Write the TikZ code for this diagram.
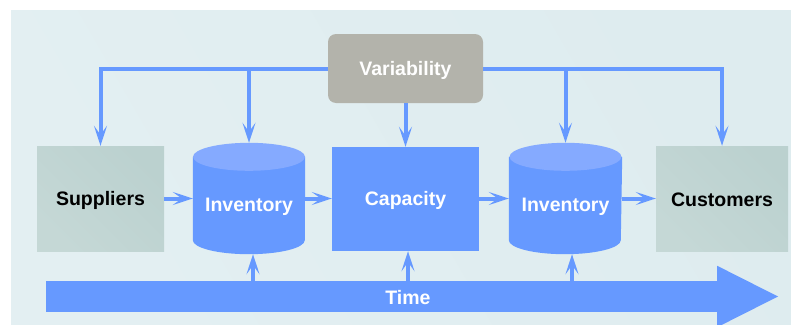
\documentclass[tikz,border=0pt]{standalone}
\usepackage{fontspec}
\setmainfont{Liberation Sans}
\usetikzlibrary{arrows.meta,calc}
\definecolor{bgc}{HTML}{DEECEF}
\definecolor{bgl}{HTML}{E3EFF2}
\definecolor{blu}{HTML}{6699FF}
\definecolor{blutop}{HTML}{85AAFF}
\definecolor{grn}{HTML}{BBD1CF}
\definecolor{grnl}{HTML}{C5D8D6}
\definecolor{varc}{HTML}{B3B3AB}
\tikzset{
  conn/.style={draw=blu, line width=4pt,
    -{Stealth[length=20pt,width=13pt,inset=9pt]}},
  gbox/.style={rectangle, inner sep=0pt, left color=grnl, right color=grn,
    shading angle=135},
  bbox/.style={rectangle, inner sep=0pt, fill=blu},
  cylbox/.style={rectangle, inner sep=0pt, minimum width=112pt, minimum height=111pt},
  wlbl/.style={text=white, inner sep=0pt, font=\fontsize{19.5}{22}\selectfont\bfseries},
  klbl/.style={text=black, inner sep=0pt, font=\fontsize{19.5}{22}\selectfont\bfseries},
}
\newcommand\mycyl[1]{%
  \fill[blu] ([yshift=-14pt]#1.north west) -- ([yshift=14pt]#1.south west)
     arc[start angle=180, end angle=360, x radius=56pt, y radius=14pt]
     -- ([yshift=-14pt]#1.north east) -- cycle;
  \fill[blutop] ([yshift=-14pt]#1.north) ellipse[x radius=56pt, y radius=14pt];
}
\begin{document}
\begin{tikzpicture}[x=1pt,y=-1pt]
\useasboundingbox (0,0) rectangle (791,324);
\clip (0,0) rectangle (791,324);
% background
\node[rectangle, inner sep=0pt, minimum width=780pt, minimum height=314pt,
  left color=bgl, right color=bgc, shading angle=120] (bg) at (401,167) {};
% nodes
\node[rectangle, rounded corners=8pt, fill=varc, inner sep=0pt,
  minimum width=155pt, minimum height=69pt] (var) at (405.5,68.5) {};
\node[gbox, minimum width=127pt, minimum height=105pt] (sup) at (100.5,198.5) {};
\node[cylbox] (inv1) at (249,198.5) {};
\node[bbox, minimum width=147pt, minimum height=104pt] (cap) at (405.5,199) {};
\node[cylbox, minimum width=113pt] (inv2) at (565.5,198.5) {};
\node[gbox, minimum width=132pt, minimum height=105pt] (cus) at (722,198.5) {};
\mycyl{inv1}
\mycyl{inv2}
% labels
\node[wlbl] (varlbl) at ([yshift=-2pt]var.center) {Variability};
\node[klbl] (suplbl) at ([yshift=-1.5pt]sup.center) {Suppliers};
\node[wlbl] (inv1lbl) at ([yshift=-8pt]inv1.center) {Inventory};
\node[wlbl] (caplbl) at ([yshift=-1pt]cap.center) {Capacity};
\node[wlbl] (inv2lbl) at ([yshift=-8pt]inv2.center) {Inventory};
\node[klbl] (cuslbl) at ([yshift=-1.5pt]cus.center) {Customers};
% time arrow
\node[rectangle, fill=blu, inner sep=0pt, minimum width=671pt, minimum height=31pt] (time) at (381.5,296.5) {};
\fill[blu] ([yshift=15pt]time.north east) -- (778,296.5) -- ([yshift=-15pt]time.south east) -- cycle;
\node[wlbl] (timelbl) at (408,298) {Time};
% variability connectors
\draw[conn] (var.west) -| (sup.north);
\draw[conn] (var.west) -| (inv1.north);
\draw[conn] (var.east) -| (inv2.north);
\draw[conn] (var.east) -| (cus.north);
\draw[conn] (var.south) -- (cap.north);
% flow connectors
\draw[conn] (sup.east) -- (inv1.west);
\draw[conn] (inv1.east) -- (cap.west |- inv1.east);
\draw[conn] (cap.east |- inv2.west) -- (inv2.west);
\draw[conn] (inv2.east) -- (cus.west);
% time connectors
\draw[conn] ([xshift=4pt]inv1.south |- time.north) -- ([xshift=4pt]inv1.south);
\draw[conn] ([xshift=2.5pt]cap.south |- time.north) -- ([xshift=2.5pt]cap.south);
\draw[conn] ([xshift=6.5pt]inv2.south |- time.north) -- ([xshift=6.5pt]inv2.south);
\end{tikzpicture}
\end{document}
